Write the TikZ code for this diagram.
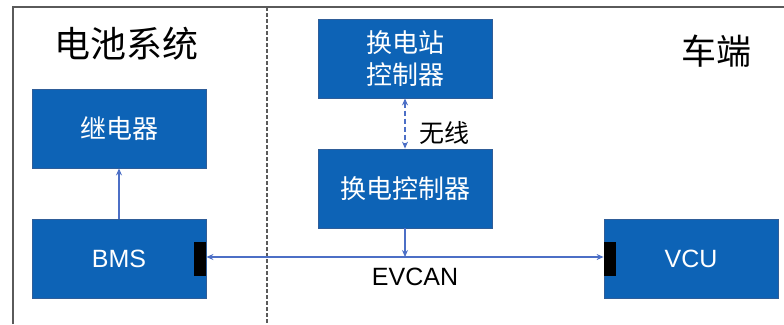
\documentclass[tikz,border=0pt]{standalone}
\usepackage{fontspec}
\setmainfont{Liberation Sans}
\newfontfamily\cjk{Noto Sans CJK SC}
\usetikzlibrary{arrows.meta}
\definecolor{boxblue}{HTML}{0D63B6}
\definecolor{boxedge}{HTML}{2F5D98}
\definecolor{linkblue}{HTML}{4C6FC6}
\definecolor{framegray}{HTML}{5A5A5A}
\tikzset{
  unitbox/.style={draw=boxedge, line width=0.8pt, fill=boxblue, minimum width=174pt, minimum height=79pt, inner sep=0pt, text=white, align=center},
  cjktext/.style={font=\cjk\fontsize{26}{31}\selectfont},
  latintext/.style={font=\fontsize{25}{29}\selectfont},
  titletext/.style={font=\cjk\fontsize{36}{42}\selectfont},
  port/.style={fill=black, draw=none, minimum width=12pt, minimum height=34pt, inner sep=0pt},
  link/.style={draw=linkblue, line width=1.1pt, -{Stealth[length=7pt,width=6pt]}},
  linkboth/.style={draw=linkblue, line width=1.1pt, {Stealth[length=7pt,width=6pt]}-{Stealth[length=7pt,width=6pt]}},
}
\begin{document}
\begin{tikzpicture}[x=1pt,y=-1pt]
\useasboundingbox (0,0) rectangle (784,324);
% frame
\draw[framegray, line width=1.5pt] (13,324) -- (13,7) -- (784,7);
\draw[framegray, line width=1.4pt, dash pattern=on 3.5pt off 2.5pt] (267,7) -- (267,324);
% titles
\node[titletext] (t1) at (126,44) {电池系统};
\node[titletext, font=\cjk\fontsize{35}{40}\selectfont] (t2) at (716,51) {车端};
% boxes
\node[unitbox, cjktext] (relay) at (119,128.5) {继电器};
\node[unitbox, latintext] (bms) at (119,258.5) {BMS};
\node[unitbox, cjktext, font=\cjk\fontsize{26}{32}\selectfont] (stc) at (405,58.5) {换电站\\控制器};
\node[unitbox, cjktext] (sc) at (405,188.5) {换电控制器};
\node[unitbox, latintext] (vcu) at (691,258.5) {VCU};
% ports
\node[port, anchor=east] (pb) at (bms.east) {};
\node[port, anchor=west] (pv) at (vcu.west) {};
% bus junction
\coordinate (j) at (405,257);
% links
\draw[link] (bms.north) -- (relay.south);
\draw[linkboth, dash pattern=on 5pt off 3pt] (stc.south) -- (sc.north);
\draw[link] (sc.south) -- (j);
\draw[linkboth] (pb.east |- j) -- (pv.west |- j);
% labels
\node[cjktext, font=\cjk\fontsize{25}{30}\selectfont] (wx) at (444,133) {无线};
\node[latintext] (evcan) at (415,277) {EVCAN};
\end{tikzpicture}
\end{document}
